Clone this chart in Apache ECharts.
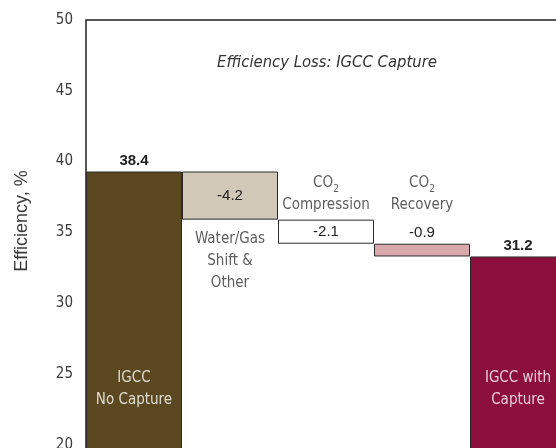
<!DOCTYPE html>
<html>
<head>
<meta charset="utf-8">
<script src="https://cdn.jsdelivr.net/npm/echarts@6/dist/echarts.min.js"></script>
<style>
  html, body { margin: 0; padding: 0; background: #fff; }
  #chart { width: 556px; height: 448px; }
</style>
</head>
<body>
<div id="chart"></div>
<script>
// step names, left to right
const categories = ['IGCC\nNo Capture', 'Water/Gas\nShift &\nOther', 'CO2\nCompression', 'CO2\nRecovery', 'IGCC with\nCapture'];
// numbers printed on the chart
const valueLabels = ['38.4', '-4.2', '-2.1', '-0.9', '31.2'];
// where each bar starts and ends on the axis, as drawn
const barBottoms = [0, 35.9, 34.2, 33.3, 0];
const barTops = [39.3, 39.3, 35.9, 34.2, 33.3];
// y axis ticks
const yTicks = [0, 5, 10, 15, 20, 25, 30, 35, 40, 45, 50];

const narrow = "'Liberation Sans Narrow', 'DejaVu Sans Condensed', 'Liberation Sans', sans-serif";
const arial = "'Liberation Sans', Arial, sans-serif";

// layout only: fill colours, label placement
const fills = ['#5b4820', '#d2c8b8', '#ffffff', '#d8a8aa', '#8c0e3a'];
const valuePos = ['top', 'inside', 'inside', 'top', 'top'];
const valueBold = [true, false, false, false, true];
const nameAnchorY = [23.9, 32.95, 37.7, 37.7, 23.95];
const nameColor = ['#ffffff', '#333333', '#333333', '#333333', '#ffffff'];

const chart = echarts.init(document.getElementById('chart'));

const option = {
  animation: false,
  title: {
    text: 'Efficiency Loss: IGCC Capture',
    left: 212,
    top: 49,
    textStyle: {
      fontFamily: narrow,
      fontStyle: 'italic',
      fontWeight: 'normal',
      fontSize: 16.5,
      color: '#333'
    }
  },
  graphic: [{
    type: 'text',
    x: 22,
    y: 221,
    rotation: Math.PI / 2,
    style: {
      text: 'Efficiency, %',
      align: 'center',
      verticalAlign: 'middle',
      fontFamily: arial,
      fontSize: 18,
      fill: '#3a3a3a'
    }
  }],
  grid: {
    left: 86,
    top: 20,
    width: 480,
    height: 708,
    outerBoundsMode: 'none',
    containLabel: false,
    show: true,
    borderColor: '#231f20',
    borderWidth: 1.5
  },
  xAxis: {
    type: 'category',
    data: categories,
    axisLine: { show: false },
    axisTick: { show: false },
    axisLabel: { show: false }
  },
  yAxis: {
    type: 'value',
    min: yTicks[0],
    max: yTicks[yTicks.length - 1],
    interval: yTicks[1] - yTicks[0],
    axisLine: { show: false },
    axisTick: { show: false },
    splitLine: { show: false },
    axisLabel: {
      fontFamily: narrow,
      fontSize: 15,
      color: '#3a3a3a',
      margin: 13
    }
  },
  series: [
    {
      type: 'bar',
      stack: 'fall',
      barWidth: '100%',
      silent: true,
      itemStyle: { color: 'transparent' },
      data: barBottoms
    },
    {
      type: 'bar',
      stack: 'fall',
      barWidth: '100%',
      itemStyle: { borderColor: '#2b2b2b', borderWidth: 1 },
      data: barTops.map((t, i) => ({
        value: +(t - barBottoms[i]).toFixed(2),
        itemStyle: { color: fills[i] },
        label: {
          show: true,
          position: valuePos[i],
          distance: 3,
          fontWeight: valueBold[i] ? 'bold' : 'normal',
          formatter: () => valueLabels[i]
        }
      })),
      label: {
        fontFamily: arial,
        fontSize: 15,
        color: '#222'
      }
    },
    {
      type: 'scatter',
      symbolSize: 1,
      silent: true,
      itemStyle: { color: 'transparent' },
      data: categories.map((c, i) => ({
        value: [i, nameAnchorY[i]],
        label: { color: nameColor[i] }
      })),
      label: {
        show: true,
        position: 'inside',
        fontFamily: narrow,
        fontSize: 15,
        lineHeight: 22,
        align: 'center',
        formatter: (p) => categories[p.dataIndex].replace('CO2', '{co|CO}{sub|2}'),
        rich: {
          co: { fontFamily: narrow, fontSize: 15, lineHeight: 22, color: '#333' },
          sub: { fontFamily: narrow, fontSize: 10, lineHeight: 17, color: '#333', verticalAlign: 'bottom' }
        }
      }
    }
  ]
};

chart.setOption(option);
</script>
</body>
</html>
